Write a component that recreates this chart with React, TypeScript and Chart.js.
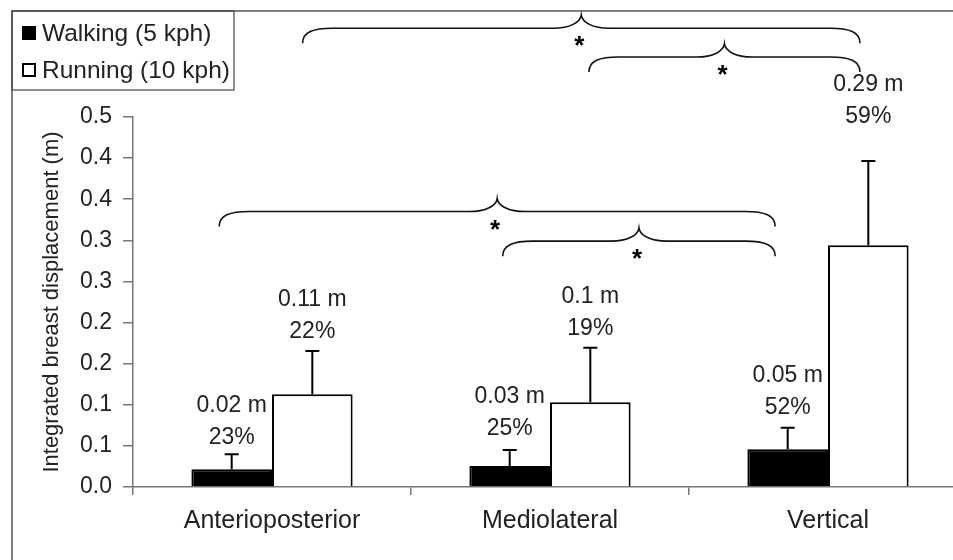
import React, { useEffect, useRef } from 'react';
import { Chart, registerables } from 'chart.js';

Chart.register(...registerables);

// ---------- data ----------
const categories = ['Anterioposterior', 'Mediolateral', 'Vertical'];
const seriesNames = ['Walking (5 kph)', 'Running (10 kph)'];
const walking = [0.0215, 0.0255, 0.0458];
const running = [0.1127, 0.103, 0.294];
const walkingSD = [0.0183, 0.0195, 0.0264];
const runningSD = [0.0527, 0.0665, 0.1025];
const walkingValueText = ['0.02 m', '0.03 m', '0.05 m'];
const walkingPctText = ['23%', '25%', '52%'];
const runningValueText = ['0.11 m', '0.1 m', '0.29 m'];
const runningPctText = ['22%', '19%', '59%'];
const yTickLabels = ['0.0', '0.1', '0.1', '0.2', '0.2', '0.3', '0.3', '0.4', '0.4', '0.5'];
const yMin = 0;
const yMax = 0.45;
const yStep = 0.05;
// significance braces (category units for from/to, metres for level)
const braceFrom = [-0.19, 0.83, 0.11, 1.14];
const braceTo = [1.81, 1.81, 2.115, 2.115];
const braceLevel = [0.335, 0.299, 0.558, 0.523];
const braceMark = ['*', '*', '*', '*'];

// ---------- styles ----------
const FONT = '"Liberation Sans", Arial, Helvetica, sans-serif';
const TEXT = '#222';
const AXIS = '#777';

const frameAndLegend = {
  id: 'frameAndLegend',
  afterDraw(chart: any) {
    const ctx = chart.ctx;
    ctx.save();
    ctx.strokeStyle = '#555';
    ctx.lineWidth = 1.5;
    ctx.beginPath();
    ctx.moveTo(12, chart.height);
    ctx.lineTo(12, 11);
    ctx.lineTo(chart.width, 11);
    ctx.stroke();
    ctx.lineWidth = 1.2;
    ctx.strokeStyle = '#444';
    ctx.strokeRect(12, 11, 222, 79);
    const ds = chart.data.datasets;
    ctx.font = `24.5px ${FONT}`;
    ctx.textBaseline = 'middle';
    ctx.textAlign = 'left';
    ds.forEach((d: any, i: number) => {
      const cy = 33 + i * 37;
      ctx.fillStyle = d.backgroundColor;
      ctx.fillRect(22, cy - 7, 14, 14);
      ctx.strokeStyle = '#000';
      ctx.lineWidth = 2;
      ctx.strokeRect(23, cy - 6, 12, 12);
      ctx.fillStyle = TEXT;
      ctx.fillText(d.label, 42, cy + 1);
    });
    ctx.restore();
  },
};

const errorsAndLabels = {
  id: 'errorsAndLabels',
  afterDatasetsDraw(chart: any) {
    const ctx = chart.ctx;
    const yS = chart.scales.y;
    const sds = [walkingSD, runningSD];
    const vals = [walking, running];
    const t1 = [walkingValueText, runningValueText];
    const t2 = [walkingPctText, runningPctText];
    const lift = [[17, 21, 20], [19, 19, 44]];
    ctx.save();
    chart.data.datasets.forEach((_d: any, di: number) => {
      const meta = chart.getDatasetMeta(di);
      meta.data.forEach((bar: any, i: number) => {
        const x = bar.x;
        const yTop = yS.getPixelForValue(vals[di][i]);
        const yErr = yS.getPixelForValue(vals[di][i] + sds[di][i]);
        ctx.strokeStyle = '#000';
        ctx.lineWidth = 2;
        ctx.beginPath();
        ctx.moveTo(x, yTop);
        ctx.lineTo(x, yErr);
        ctx.moveTo(x - 7, yErr);
        ctx.lineTo(x + 7, yErr);
        ctx.stroke();
        ctx.fillStyle = TEXT;
        ctx.font = `23px ${FONT}`;
        ctx.textAlign = 'center';
        ctx.textBaseline = 'middle';
        const yb = yErr - lift[di][i];
        ctx.fillText(t2[di][i], x, yb);
        ctx.fillText(t1[di][i], x, yb - 32);
      });
    });
    ctx.restore();
  },
};

function drawBrace(ctx: CanvasRenderingContext2D, x1: number, x2: number, y: number) {
  const d = 15;
  const dm = 13;
  const r = 30;
  const rm = 28;
  const xm = (x1 + x2) / 2;
  ctx.beginPath();
  ctx.moveTo(x1, y + d);
  ctx.bezierCurveTo(x1, y + d * 0.25, x1 + r * 0.35, y, x1 + r, y);
  ctx.lineTo(xm - rm, y);
  ctx.bezierCurveTo(xm - rm * 0.4, y, xm - 1, y - dm * 0.45, xm, y - dm);
  ctx.bezierCurveTo(xm + 1, y - dm * 0.45, xm + rm * 0.4, y, xm + rm, y);
  ctx.lineTo(x2 - r, y);
  ctx.bezierCurveTo(x2 - r * 0.35, y, x2, y + d * 0.25, x2, y + d);
  ctx.stroke();
}

const braces = {
  id: 'braces',
  afterDraw(chart: any) {
    const ctx = chart.ctx;
    const xS = chart.scales.x;
    const yS = chart.scales.y;
    ctx.save();
    ctx.strokeStyle = '#111';
    ctx.lineWidth = 1.6;
    braceFrom.forEach((f, i) => {
      const x1 = xS.getPixelForValue(f);
      const x2 = xS.getPixelForValue(braceTo[i]);
      const y = yS.getPixelForValue(braceLevel[i]);
      drawBrace(ctx, x1, x2, y);
      ctx.fillStyle = '#000';
      ctx.font = `bold 26px ${FONT}`;
      ctx.textAlign = 'center';
      ctx.textBaseline = 'alphabetic';
      ctx.fillText(braceMark[i], (x1 + x2) / 2 - 2, y + 26);
    });
    ctx.restore();
  },
};

export default function App() {
  const ref = useRef<HTMLCanvasElement | null>(null);
  useEffect(() => {
    if (!ref.current) return;
    Chart.defaults.font.family = FONT;
    const chart = new Chart(ref.current, {
      type: 'bar',
      data: {
        labels: categories,
        datasets: [
          {
            label: seriesNames[0],
            data: walking,
            backgroundColor: '#000',
            borderColor: '#000',
            borderWidth: 2,
            categoryPercentage: 0.58,
            barPercentage: 1,
          },
          {
            label: seriesNames[1],
            data: running,
            backgroundColor: '#fff',
            borderColor: '#000',
            borderWidth: 2,
            categoryPercentage: 0.58,
            barPercentage: 1,
          },
        ],
      },
      options: {
        animation: false,
        responsive: false,
        layout: { padding: { top: 117, right: 0, bottom: 0, left: 0 } },
        plugins: { legend: { display: false }, tooltip: { enabled: false } },
        scales: {
          x: {
            afterFit: (s: any) => { s.height = 73; },
            grid: { offset: true, drawOnChartArea: false, tickLength: 8, color: AXIS, lineWidth: 1.5 },
            border: { color: AXIS, width: 1.5 },
            ticks: { font: { size: 25, family: FONT }, color: TEXT, padding: 11 },
          },
          y: {
            min: yMin,
            max: yMax,
            afterFit: (s: any) => { s.width = 133; },
            grid: { drawOnChartArea: false, tickLength: 10, color: AXIS, lineWidth: 1.5 },
            border: { color: AXIS, width: 1.5 },
            ticks: {
              stepSize: yStep,
              autoSkip: false,
              callback: (_v: any, i: number) => yTickLabels[i],
              font: { size: 23, family: FONT },
              color: TEXT,
              padding: 11,
            },
            title: {
              display: true,
              text: 'Integrated breast displacement (m)',
              font: { size: 22, family: FONT },
              color: TEXT,
              padding: { top: 39, bottom: 0 },
            },
          },
        },
      },
      plugins: [errorsAndLabels, braces, frameAndLegend],
    } as any);
    return () => chart.destroy();
  }, []);
  return (
    <div style={{ position: 'fixed', left: 0, top: 0, width: 953, height: 560, overflow: 'hidden', background: '#fff' }}>
      <canvas ref={ref} width={967} height={560} style={{ display: 'block' }} />
    </div>
  );
}
